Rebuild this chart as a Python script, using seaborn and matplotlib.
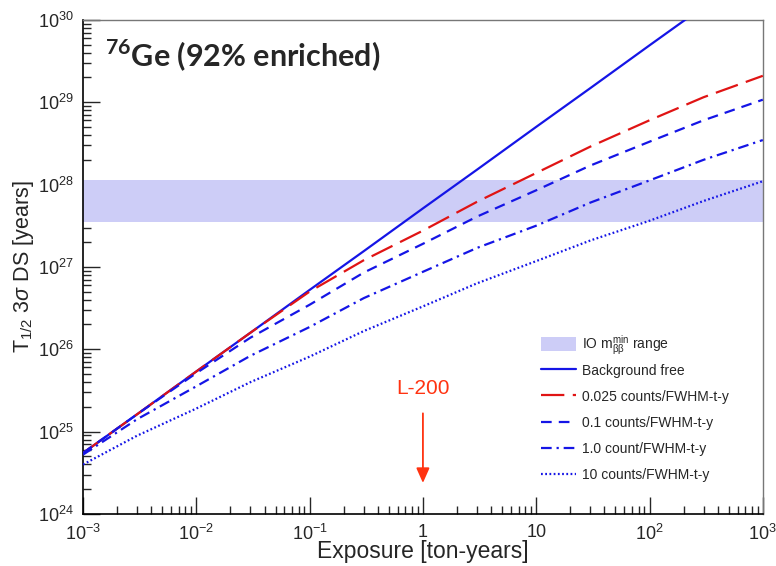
import numpy as np
import pandas as pd
import seaborn as sns
import matplotlib.pyplot as plt
from matplotlib.ticker import FuncFormatter, NullFormatter

# 读数 (log10 of T1/2 in years)
exposure = [1e-3, 3e-3, 1e-2, 3e-2, 1e-1, 3e-1, 1, 3, 10, 30, 100, 300, 1000]
bg_free = [24.74, 25.21, 25.73, 26.20, 26.72, 27.19, 27.71, 28.18, 28.70, 29.17, 29.69, 30.16, 30.68]
bg_0025 = [24.74, 25.21, 25.73, 26.20, 26.70, 27.08, 27.44, 27.79, 28.14, 28.46, 28.78, 29.06, 29.32]
bg_01 = [24.74, 25.21, 25.71, 26.14, 26.54, 26.93, 27.28, 27.61, 27.93, 28.23, 28.52, 28.78, 29.03]
bg_1 = [24.72, 25.15, 25.55, 25.92, 26.27, 26.62, 26.94, 27.23, 27.50, 27.78, 28.05, 28.30, 28.54]
bg_10 = [24.60, 24.95, 25.28, 25.60, 25.91, 26.22, 26.52, 26.80, 27.07, 27.32, 27.56, 27.80, 28.04]
io_band = [3.5e27, 1.15e28]

labels = ["Background free", "0.025 counts/FWHM-t-y", "0.1 counts/FWHM-t-y",
          "1.0 count/FWHM-t-y", "10 counts/FWHM-t-y"]
series = [bg_free, bg_0025, bg_01, bg_1, bg_10]

sns.set_style("white")
plt.rcParams['font.family'] = ['Liberation Sans', 'DejaVu Sans']
plt.rcParams['mathtext.fontset'] = 'custom'
plt.rcParams['mathtext.rm'] = 'Liberation Sans'
plt.rcParams['mathtext.it'] = 'Liberation Sans:italic'
plt.rcParams['mathtext.sf'] = 'Liberation Sans'
plt.rcParams['mathtext.bf'] = 'Lato:bold'

fig = plt.figure(figsize=(7.76, 5.66), dpi=100)
ax = fig.add_axes([0.107, 0.092, 0.876, 0.873])

blue = "#1515e6"
red = "#e01414"
styles = [
    dict(color=blue, linestyle="-"),
    dict(color=red, linestyle=(0, (10.5, 3.8))),
    dict(color=blue, linestyle=(0, (4.8, 3.2))),
    dict(color=blue, linestyle=(0, (4.8, 2.2, 1.0, 2.2))),
    dict(color=blue, linestyle=(0, (0.8, 1.1))),
]

# IO 区域
band = ax.axhspan(io_band[0], io_band[1], color="#cdcdf7", lw=0, zorder=1)

lines = []
for lab, vals, st in zip(labels, series, styles):
    df = pd.DataFrame({"E": exposure, "T": 10 ** np.array(vals)})
    sns.lineplot(data=df, x="E", y="T", ax=ax, lw=1.6, estimator=None, zorder=3, **st)
    lines.append(ax.lines[-1])

ax.set_xscale("log")
ax.set_yscale("log")
ax.set_xlim(1e-3, 1e3)
ax.set_ylim(1e24, 1e30)


def root_fmt(v, pos):
    e = int(round(np.log10(v)))
    if e == 0:
        return "1"
    if e == 1:
        return "10"
    return r"$\mathdefault{10^{%d}}$" % e


ax.xaxis.set_major_formatter(FuncFormatter(root_fmt))
ax.yaxis.set_major_formatter(FuncFormatter(lambda v, p: r"$\mathdefault{10^{%d}}$" % int(round(np.log10(v)))))
ax.xaxis.set_minor_formatter(NullFormatter())
ax.yaxis.set_minor_formatter(NullFormatter())

ax.tick_params(which="major", direction="in", length=12, width=1, labelsize=13,
               bottom=True, left=True, top=False, right=False, pad=7)
ax.tick_params(which="minor", direction="in", length=6, width=1,
               bottom=True, left=True, top=False, right=False)
for s in ["left", "bottom"]:
    ax.spines[s].set_color("black")
    ax.spines[s].set_linewidth(1.2)
for s in ["top", "right"]:
    ax.spines[s].set_color("#777777")
    ax.spines[s].set_linewidth(1.0)

ax.set_xlabel("Exposure [ton-years]", fontsize=16.5, labelpad=-3)
ax.set_ylabel(r"T$_{1/2}$ 3$\sigma$ DS [years]", fontsize=15.5, labelpad=1)

ax.text(0.032, 0.928, r"$^{\mathbf{76}}$Ge (92% enriched)", transform=ax.transAxes,
        fontsize=22, fontweight="bold", family="Lato", va="center", ha="left")

# L-200 标注
ax.annotate("", xy=(1, 2.2e24), xytext=(1, 1.8e25),
            arrowprops=dict(arrowstyle="-|>,head_length=0.9,head_width=0.4", color="#ff3311", lw=1.3))
ax.text(1, 3.3e25, "L-200", color="#ff3311", fontsize=15, ha="center", va="center")

# 图例：色带一项单独放，避免上下标撑高行距
leg_kw = dict(loc="upper left", frameon=False, fontsize=10, handlelength=2.5, handleheight=1.1,
              handletextpad=0.45, borderpad=0)
leg1 = ax.legend([band], [r"IO m$_{\mathsf{\beta\beta}}^{\mathsf{min}}$ range"],
                 bbox_to_anchor=(0.664, 0.380), **leg_kw)
ax.add_artist(leg1)
ax.legend(lines, labels, bbox_to_anchor=(0.664, 0.318), labelspacing=0.84, **leg_kw)

fig.savefig("out.png", dpi=100)
